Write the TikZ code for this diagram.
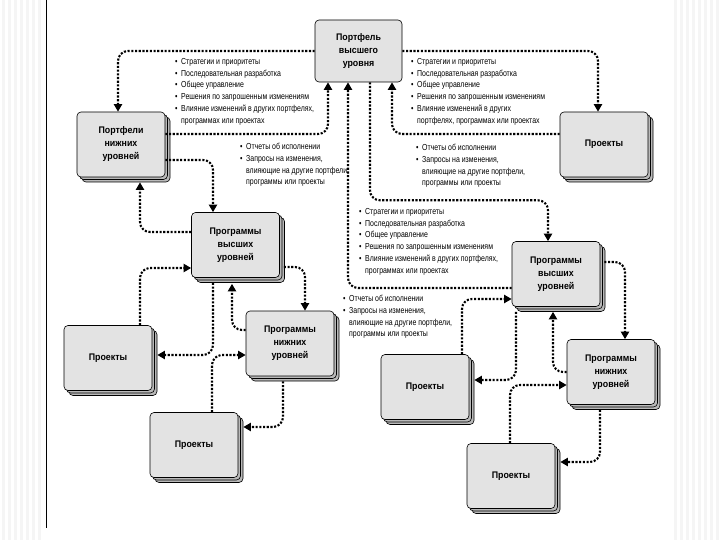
\documentclass[tikz,border=0pt]{standalone}
\usepackage{fontspec}
\setmainfont{Liberation Sans}
\newfontfamily\listfont[FakeStretch=0.8]{Liberation Sans}
\newfontfamily\boxfont[FakeStretch=0.92]{Liberation Sans}
\usetikzlibrary{arrows.meta,shadows}
\newcommand\bul{\makebox[6pt][l]{\textbullet}}
\newcommand\ind{\hspace*{6pt}}
\begin{document}
\begin{tikzpicture}[x=1pt,y=-1pt,
  blk/.style={draw=black, line width=0.6pt, fill=gray!22, rounded corners=4pt,
    minimum width=88pt, minimum height=65pt, inner sep=2pt, align=center,
    font=\boxfont\bfseries\fontsize{9.6}{13}\selectfont,
    double copy shadow={shadow xshift=2.5pt, shadow yshift=-2.5pt, fill=gray!55, draw=black, line width=0.6pt}},
  topblk/.style={draw=black, line width=0.6pt, fill=gray!22, rounded corners=4pt,
    minimum width=87pt, minimum height=62pt, inner sep=2pt, align=center,
    font=\boxfont\bfseries\fontsize{9.6}{13}\selectfont},
  con/.style={line width=2.1pt, dash pattern=on 2.1pt off 1.6pt, rounded corners=10pt,
    -{Triangle[length=7.5pt,width=8pt]}},
  lst/.style={anchor=north west, inner sep=0pt, align=left,
    font=\listfont\fontsize{8.7}{11.8}\selectfont}
]
\useasboundingbox (0,0) rectangle (720,540);
\fill[white] (0,0) rectangle (720,540);
% page frame
\foreach \x in {2,8,...,40} \fill[gray!8] (\x,0) rectangle ++(3,540);
\foreach \x in {674,680,...,716} \fill[gray!8] (\x,0) rectangle ++(3,540);
\draw[line width=0.8pt] (46,0) -- (46,528);

% boxes
\node[topblk] (top) at (358.5,51) {Портфель\\высшего\\уровня};
\node[blk] (portL) at (121,144.5) {Портфели\\нижних\\уровней};
\node[blk] (projTR) at (604,144.5) {Проекты};
\node[blk] (pvL) at (235.5,245) {Программы\\высших\\уровней};
\node[blk] (pnL) at (290,343.5) {Программы\\нижних\\уровней};
\node[blk] (projL) at (108,358) {Проекты};
\node[blk] (projLB) at (194,445) {Проекты};
\node[blk] (pvR) at (556,274) {Программы\\высших\\уровней};
\node[blk] (pnR) at (611,372) {Программы\\нижних\\уровней};
\node[blk] (projRM) at (425,387) {Проекты};
\node[blk] (projRB) at (511,476) {Проекты};

% lists
\node[lst] (l1) at (175,58) {\bul Стратегии и приоритеты\\\bul Последовательная разработка\\\bul Общее управление\\\bul Решения по запрошенным изменениям\\\bul Влияние изменений в других портфелях,\\\ind программах или проектах};
\node[lst] (r1) at (411,58) {\bul Стратегии и приоритеты\\\bul Последовательная разработка\\\bul Общее управление\\\bul Решения по запрошенным изменениям\\\bul Влияние изменений в других\\\ind портфелях, программах или проектах};
\node[lst] (l2) at (240,143) {\bul Отчеты об исполнении\\\bul Запросы на изменения,\\\ind влияющие на другие портфели,\\\ind программы или проекты};
\node[lst] (r2) at (416,144) {\bul Отчеты об исполнении\\\bul Запросы на изменения,\\\ind влияющие на другие портфели,\\\ind программы или проекты};
\node[lst] (m3) at (359,208) {\bul Стратегии и приоритеты\\\bul Последовательная разработка\\\bul Общее управление\\\bul Решения по запрошенным изменениям\\\bul Влияние изменений в других портфелях,\\\ind программах или проектах};
\node[lst] (m4) at (343,295) {\bul Отчеты об исполнении\\\bul Запросы на изменения,\\\ind влияющие на другие портфели,\\\ind программы или проекты};

% connectors: top level
\draw[con] (top.west) -| ([xshift=-3pt]portL.north);
\draw[con] ([yshift=10.5pt]portL.east) -| ([xshift=-30.5pt]top.south);
\draw[con] ([yshift=-15.5pt]portL.east) -| ([xshift=-22.5pt]pvL.north);
\draw[con] ([yshift=13pt]pvL.west) -| ([xshift=19pt,yshift=-5pt]portL.south);
\draw[con] (top.east) -| ([xshift=-6pt]projTR.north);
\draw[con] ([yshift=10.5pt]projTR.west) -| ([xshift=33.5pt]top.south);
\draw[con] ([xshift=11.5pt]top.south) -- ++(0,118) -| ([xshift=-8pt]pvR.north);
\draw[con] ([yshift=-14pt]pvR.west) -| ([xshift=-10.5pt]top.south);

% left cluster
\draw[con] ([xshift=-22.5pt,yshift=-5pt]pvL.south) |- ([xshift=5pt,yshift=3pt]projL.east);
\draw[con] ([xshift=32pt]projL.north) |- ([yshift=-23pt]pvL.west);
\draw[con] ([xshift=4pt,yshift=-22pt]pvL.east) -| ([xshift=15pt]pnL.north);
\draw[con] ([yshift=13.5pt]pnL.west) -| ([xshift=-3.5pt,yshift=-6pt]pvL.south);
\draw[con] ([xshift=-7pt,yshift=-5pt]pnL.south) |- ([xshift=5pt,yshift=18pt]projLB.east);
\draw[con] ([xshift=18pt]projLB.north) |- ([yshift=-11.5pt]pnL.west);

% right cluster
\draw[con] ([xshift=4pt,yshift=12pt]pvR.east) -| ([xshift=14pt]pnR.north);
\draw[con] (pnR.west) -| ([xshift=-3pt,yshift=-5pt]pvR.south);
\draw[con] ([xshift=-40pt,yshift=-5pt]pvR.south) |- ([xshift=5pt,yshift=7pt]projRM.east);
\draw[con] ([xshift=37pt]projRM.north) |- ([yshift=-25pt]pvR.west);
\draw[con] ([xshift=-11pt,yshift=-5pt]pnR.south) |- ([xshift=5pt,yshift=14pt]projRB.east);
\draw[con] ([xshift=-1pt]projRB.north) |- ([yshift=-13pt]pnR.west);
\end{tikzpicture}
\end{document}
